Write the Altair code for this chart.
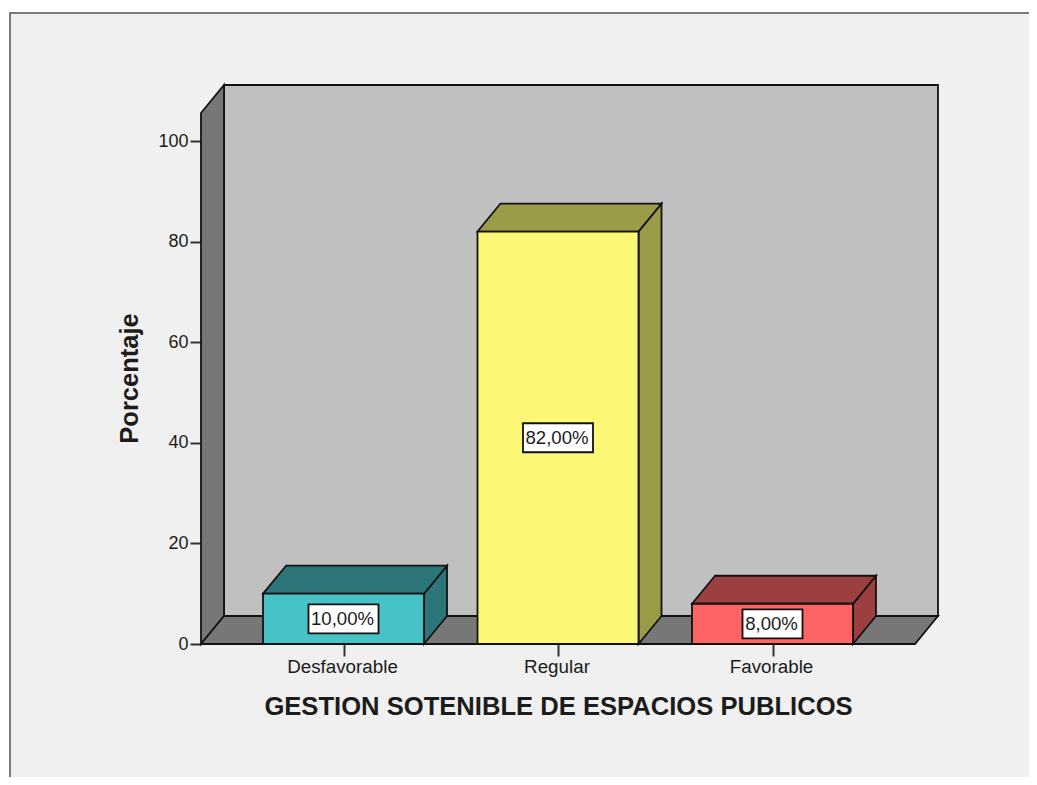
import altair as alt
import pandas as pd

categories = ["Desfavorable", "Regular", "Favorable"]
values = [10.0, 82.0, 8.0]
front_colors = ["#47c3c7", "#fcf876", "#ff6464"]
shade_colors = ["#2c7679", "#9c9b48", "#9c3f3f"]
y_ticks = [0, 20, 40, 60, 80, 100]
x_title = "GESTION SOTENIBLE DE ESPACIOS PUBLICOS"
y_title = "Porcentaje"

FONT = "Liberation Sans"
INK = "#1c1c1c"
PX_X = 214.5           # pixels per category step
PX_Y = 5.03            # pixels per percentage point
W, H = 737, 559
X_MIN = -142.5 / PX_X
X_MAX = X_MIN + W / PX_X
Y_MAX = H / PX_Y
DX = 23 / PX_X         # depth of the 3D box
DY = 28 / PX_Y
HALF = 80.5 / PX_X     # half a bar

xs = alt.Scale(domain=[X_MIN, X_MAX], nice=False, zero=False)
ys = alt.Scale(domain=[0, Y_MAX], nice=False, zero=False)
STROKE = dict(stroke="#111111", strokeWidth=1.8, strokeJoin="miter")

x_axis = alt.Axis(
    values=[0, 1, 2],
    labelExpr="['" + "','".join(categories) + "'][datum.value]",
    title=x_title, titleFont=FONT, titleFontSize=25.6, titleFontWeight="bold", titleColor=INK,
    titleX=357, titleY=62, titleBaseline="middle", titleAlign="center",
    labelFont=FONT, labelFontSize=18.8, labelColor=INK, labelPadding=1, labelOffset=-1.5,
    tickSize=12, tickWidth=2, tickColor="#333333", domain=False, grid=False,
    labelAngle=0, labelOverlap=False, labelFlush=False,
)
y_axis = alt.Axis(
    values=y_ticks,
    title=y_title, titleFont=FONT, titleFontSize=25.5, titleFontWeight="bold", titleColor=INK,
    titleX=-72, titleY=293, titleBaseline="middle", titleAlign="center", titleAngle=270,
    labelFont=FONT, labelFontSize=18, labelColor=INK, labelPadding=2,
    tickSize=11, tickWidth=2, tickColor="#333333", domain=False, grid=False,
)


def X(field="x"):
    return alt.X(f"{field}:Q", scale=xs, axis=x_axis)


def Y(field="y"):
    return alt.Y(f"{field}:Q", scale=ys, axis=y_axis)


def side(x0, x1, y0a, y1a, y0b, y1b, color):
    """Parallelogram with vertical edges at x0 and x1."""
    df = pd.DataFrame({"x": [x0, x1], "y": [y0a, y0b], "y2": [y1a, y1b]})
    return alt.Chart(df).mark_area(orient="vertical", color=color, line=False, **STROKE).encode(
        x=X(), y=Y(), y2="y2:Q"
    )


def top(xa0, xa1, xb0, xb1, y0, y1, color):
    """Parallelogram with horizontal edges at y0 and y1."""
    df = pd.DataFrame({"y": [y0, y1], "x": [xa0, xb0], "x2": [xa1, xb1]})
    return alt.Chart(df).mark_area(orient="horizontal", color=color, line=False, **STROKE).encode(
        x=X(), x2="x2:Q", y=Y()
    )


def box(x0, x1, y0, y1, fill):
    df = pd.DataFrame({"x": [x0], "x2": [x1], "y": [y0], "y2": [y1]})
    return alt.Chart(df).mark_rect(color=fill, **STROKE).encode(
        x=X(), x2="x2:Q", y=Y(), y2="y2:Q"
    )


def frame_rect(x, x2, y, y2, color):
    """Piece of the frame around the picture, given in plot-area pixels."""
    return alt.Chart(pd.DataFrame({"a": [0]})).mark_rect(color=color).encode(
        x=alt.value(x), x2=alt.value(x2), y=alt.value(y), y2=alt.value(y2)
    )


layers = [
    frame_rect(-193, 828, -77, -73, "white"),
    frame_rect(-193, -192, -77, 692, "white"),
    frame_rect(-192, 828, -73, -71, "#7a7a7a"),
    frame_rect(-192, -190, -73, 692, "#7a7a7a"),
    box(X_MIN + DX, X_MAX, DY, Y_MAX, "#c0c0c0"),
    side(X_MIN, X_MIN + DX, 0, Y_MAX - DY, DY, Y_MAX, "#777777"),
    top(X_MIN, X_MAX - DX, X_MIN + DX, X_MAX, 0, DY, "#777777"),
]

for i, v in enumerate(values):
    l, r = i - HALF, i + HALF
    layers.append(side(r, r + DX, 0, v, DY, v + DY, shade_colors[i]))
    layers.append(top(l, r, l + DX, r + DX, v, v + DY, shade_colors[i]))
    layers.append(box(l, r, 0, v, front_colors[i]))

labels = pd.DataFrame({
    "x": list(range(len(values))),
    "y": [v / 2 for v in values],
    "text": [f"{v:.2f}".replace(".", ",") + "%" for v in values],
})
labels["hw"] = [(35 if len(t) > 5 else 30) / PX_X for t in labels["text"]]
labels["x0"] = labels["x"] - labels["hw"]
labels["x1"] = labels["x"] + labels["hw"]
labels["y0"] = labels["y"] - 14.5 / PX_Y
labels["y1"] = labels["y"] + 14.5 / PX_Y

layers.append(
    alt.Chart(labels).mark_rect(color="white", stroke="#111111", strokeWidth=1.8).encode(
        x=X("x0"), x2="x1:Q", y=Y("y0"), y2="y1:Q",
    )
)
layers.append(
    alt.Chart(labels).mark_text(font=FONT, fontSize=18.6, color=INK, align="center", baseline="middle", dx=-1).encode(
        x=X(), y=Y(), text="text:N",
    )
)

chart = alt.layer(*layers).properties(
    width=W, height=H,
    background="#f0f0f0",
    padding={"left": 193, "top": 77, "right": 91, "bottom": 133},
    autosize=alt.AutoSizeParams(type="none"),
).configure_view(stroke=None)

chart.save("out.html", embed_options={"renderer": "svg", "actions": False})
